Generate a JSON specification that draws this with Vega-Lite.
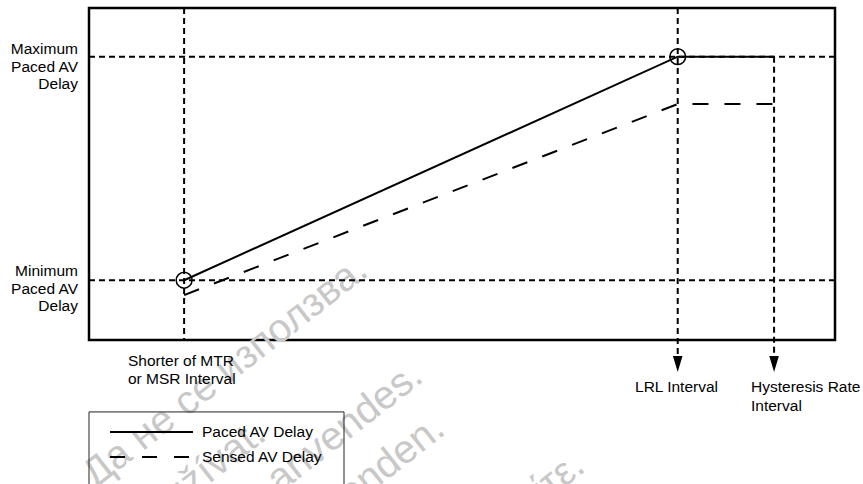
{
  "$schema": "https://vega.github.io/schema/vega-lite/v6.json",
  "width": 746,
  "height": 332,
  "autosize": "none",
  "padding": {"left": 89, "top": 8, "right": 28, "bottom": 144},
  "background": "white",
  "config": {
    "view": {"stroke": "#000", "strokeWidth": 2.5},
    "text": {"font": "Liberation Sans"}
  },
  "datasets": {
    "watermark": [
      {"x": 652, "y": 79.8, "text": "Остаряла версия. Да не се използва."},
      {"x": 487.9, "y": 5.7, "text": "Zastaralá verze. Nepoužívat."},
      {"x": 740.5, "y": 31.9, "text": "Forældet version. Må ikke anvendes."},
      {"x": 775.9, "y": 8.0, "text": "Version überholt. Nicht verwenden."},
      {"x": 1001, "y": -8.7, "text": "Παλιά έκδοση. Μην τη χρησιμοποιείτε."}
    ],
    "rules": [
      {"x": 200, "x2": 1400, "y": 178, "y2": 178},
      {"x": 200, "x2": 1400, "y": 77, "y2": 77},
      {"x": 353, "x2": 353, "y": 200, "y2": 50},
      {"x": 1147, "x2": 1147, "y": 200, "y2": 42.8},
      {"x": 1302, "x2": 1302, "y": 178, "y2": 42.8}
    ],
    "paced": [
      {"x": 353, "y": 77},
      {"x": 1147, "y": 178},
      {"x": 1302, "y": 178}
    ],
    "sensed": [
      {"x": 353, "y": 70.3},
      {"x": 1147, "y": 156.6},
      {"x": 1302, "y": 156.6}
    ],
    "markers": [
      {"x": 353, "y": 77},
      {"x": 1147, "y": 178}
    ],
    "arrows": [
      {"x": 1147, "y": 39.2},
      {"x": 1302, "y": 39.2}
    ],
    "leftLabels": [
      {"x": 182.3, "y": 184.6, "text": "Maximum\nPaced AV\nDelay"},
      {"x": 182.3, "y": 84.3, "text": "Minimum\nPaced AV\nDelay"}
    ],
    "bottomLabels": [
      {"x": 262.7, "y": 43.7, "text": "Shorter of MTR\nor MSR Interval"},
      {"x": 1078.3, "y": 31.9, "text": "LRL Interval"},
      {"x": 1264.9, "y": 31.9, "text": "Hysteresis Rate\nInterval"}
    ],
    "legendBox": [
      {"x": 200, "x2": 610.2, "y": 17.5, "y2": -22.3}
    ],
    "legendSolid": [
      {"x": 233.8, "x2": 367.3, "y": 8.4, "y2": 8.4}
    ],
    "legendDashed": [
      {"x": 233.8, "x2": 362.5, "y": -2.9, "y2": -2.9}
    ],
    "legendText": [
      {"x": 381.8, "y": 8.4, "text": "Paced AV Delay"},
      {"x": 381.8, "y": -2.9, "text": "Sensed AV Delay"}
    ]
  },
  "layer": [
    {
      "data": {"name": "watermark"},
      "mark": {"type": "text", "align": "right", "baseline": "alphabetic", "angle": -38, "fontSize": 40, "color": "#c8c8c8"},
      "encoding": {
        "x": {"field": "x", "type": "quantitative", "scale": {"domain": [200, 1400], "nice": false, "zero": false}, "axis": null},
        "y": {"field": "y", "type": "quantitative", "scale": {"domain": [50, 200], "nice": false, "zero": false}, "axis": null},
        "text": {"field": "text"}
      }
    },
    {
      "data": {"name": "rules"},
      "mark": {"type": "rule", "color": "#000", "strokeWidth": 2, "strokeDash": [6, 4]},
      "encoding": {
        "x": {"field": "x", "type": "quantitative", "axis": null},
        "x2": {"field": "x2"},
        "y": {"field": "y", "type": "quantitative", "axis": null},
        "y2": {"field": "y2"}
      }
    },
    {
      "data": {"name": "paced"},
      "mark": {"type": "line", "color": "#000", "strokeWidth": 2},
      "encoding": {
        "x": {"field": "x", "type": "quantitative", "axis": null},
        "y": {"field": "y", "type": "quantitative", "axis": null}
      }
    },
    {
      "data": {"name": "sensed"},
      "mark": {"type": "line", "color": "#000", "strokeWidth": 2, "strokeDash": [16, 16]},
      "encoding": {
        "x": {"field": "x", "type": "quantitative", "axis": null},
        "y": {"field": "y", "type": "quantitative", "axis": null}
      }
    },
    {
      "data": {"name": "markers"},
      "mark": {"type": "point", "shape": "circle", "filled": false, "stroke": "#000", "strokeWidth": 1.5, "size": 250, "opacity": 1},
      "encoding": {
        "x": {"field": "x", "type": "quantitative", "axis": null},
        "y": {"field": "y", "type": "quantitative", "axis": null}
      }
    },
    {
      "data": {"name": "arrows"},
      "mark": {"type": "point", "shape": "M-0.6,-1L0.6,-1L0,1Z", "filled": true, "color": "#000", "size": 256, "opacity": 1, "strokeWidth": 0},
      "encoding": {
        "x": {"field": "x", "type": "quantitative", "axis": null},
        "y": {"field": "y", "type": "quantitative", "axis": null}
      }
    },
    {
      "data": {"name": "leftLabels"},
      "mark": {"type": "text", "align": "right", "baseline": "top", "fontSize": 15.5, "lineHeight": 17.5, "lineBreak": "\n", "color": "#000"},
      "encoding": {
        "x": {"field": "x", "type": "quantitative", "axis": null},
        "y": {"field": "y", "type": "quantitative", "axis": null},
        "text": {"field": "text"}
      }
    },
    {
      "data": {"name": "bottomLabels"},
      "mark": {"type": "text", "align": "left", "baseline": "top", "fontSize": 15.5, "lineHeight": 18.5, "lineBreak": "\n", "color": "#000"},
      "encoding": {
        "x": {"field": "x", "type": "quantitative", "axis": null},
        "y": {"field": "y", "type": "quantitative", "axis": null},
        "text": {"field": "text"}
      }
    },
    {
      "data": {"name": "legendBox"},
      "mark": {"type": "rect", "fill": "#fff", "fillOpacity": 0, "stroke": "#222", "strokeWidth": 1},
      "encoding": {
        "x": {"field": "x", "type": "quantitative", "axis": null},
        "x2": {"field": "x2"},
        "y": {"field": "y", "type": "quantitative", "axis": null},
        "y2": {"field": "y2"}
      }
    },
    {
      "data": {"name": "legendSolid"},
      "mark": {"type": "rule", "color": "#000", "strokeWidth": 2},
      "encoding": {
        "x": {"field": "x", "type": "quantitative", "axis": null},
        "x2": {"field": "x2"},
        "y": {"field": "y", "type": "quantitative", "axis": null},
        "y2": {"field": "y2"}
      }
    },
    {
      "data": {"name": "legendDashed"},
      "mark": {"type": "rule", "color": "#000", "strokeWidth": 2, "strokeDash": [15, 17]},
      "encoding": {
        "x": {"field": "x", "type": "quantitative", "axis": null},
        "x2": {"field": "x2"},
        "y": {"field": "y", "type": "quantitative", "axis": null},
        "y2": {"field": "y2"}
      }
    },
    {
      "data": {"name": "legendText"},
      "mark": {"type": "text", "align": "left", "baseline": "middle", "fontSize": 15.5, "color": "#000"},
      "encoding": {
        "x": {"field": "x", "type": "quantitative", "axis": null},
        "y": {"field": "y", "type": "quantitative", "axis": null},
        "text": {"field": "text"}
      }
    }
  ]
}
